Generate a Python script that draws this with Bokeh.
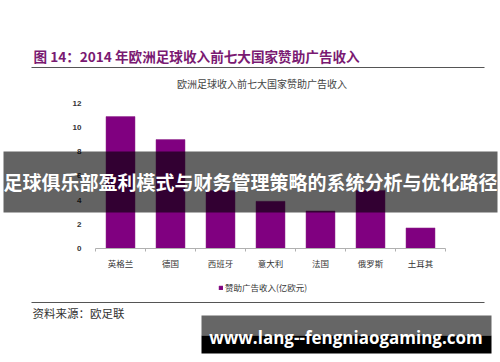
from bokeh.plotting import figure
from bokeh.models import Range1d, FixedTicker, Label, BoxAnnotation, Legend, LegendItem
from bokeh.embed import file_html
from bokeh.resources import INLINE

categories = ["英格兰", "德国", "西班牙", "意大利", "法国", "俄罗斯", "土耳其"]
values = [10.9, 9.0, 4.8, 3.9, 3.1, 4.8, 1.7]
y_ticks = [0, 2, 4, 6, 8, 10, 12]
series_name = "赞助广告收入(亿欧元)"
fig_title = "图 14：2014 年欧洲足球收入前七大国家赞助广告收入"
chart_title = "欧洲足球收入前七大国家赞助广告收入"
source_text = "资料来源：欧足联"
banner_text = "足球俱乐部盈利模式与财务管理策略的系统分析与优化路径"
watermark_text = "www.lang--fengniaogaming.com"

CJK = "Noto Sans CJK SC"
n = len(categories)
xs = [i + 0.5 for i in range(n)]

W, H = 500, 362
# layout: category 0 at x=95px, 50px per category; value 0 at y=248px, 12.1px per unit
PX_CAT, X0 = 50.0, 95.0
PX_VAL, Y0 = 12.1, 248.0

p = figure(width=W, height=H, output_backend="svg", toolbar_location=None,
           x_range=Range1d(-X0 / PX_CAT, (W - X0) / PX_CAT),
           y_range=Range1d(-(H - Y0) / PX_VAL, Y0 / PX_VAL),
           min_border=0, min_border_left=0, min_border_right=0,
           min_border_top=0, min_border_bottom=0)
p.outline_line_color = None
p.grid.visible = False
p.background_fill_color = "white"
p.border_fill_color = "white"

bars = p.vbar(x=xs, top=values, width=0.58, fill_color="#800080", line_color="#8f2a8a", line_width=0.5)

xa = p.xaxis[0]
xa.fixed_location = 0
xa.bounds = (0, n)
xa.ticker = FixedTicker(ticks=xs, minor_ticks=list(range(n + 1)))
xa.major_label_overrides = {x: c for x, c in zip(xs, categories)}
xa.axis_line_color = "#b0b0b0"
xa.major_tick_line_color = None
xa.major_tick_out = 0
xa.major_tick_in = 0
xa.minor_tick_line_color = "#b0b0b0"
xa.minor_tick_out = 3
xa.minor_tick_in = 0
xa.major_label_standoff = 5
xa.major_label_text_font = CJK
xa.major_label_text_font_size = "8.5px"
xa.major_label_text_color = "#333333"

ya = p.yaxis[0]
ya.fixed_location = 0
ya.ticker = FixedTicker(ticks=y_ticks)
ya.axis_line_color = None
ya.major_tick_line_color = None
ya.minor_tick_line_color = None
ya.major_label_standoff = 8
ya.major_label_text_font = "Liberation Sans"
ya.major_label_text_font_style = "bold"
ya.major_label_text_font_size = "8px"
ya.major_label_text_color = "#333333"

legend = Legend(items=[LegendItem(label=series_name, renderers=[bars])],
                location=(218, H - 293), padding=0, margin=0, spacing=0,
                glyph_width=5, glyph_height=5, label_standoff=2,
                label_text_font=CJK, label_text_font_size="8.5px", label_text_color="#333333",
                label_height=8, border_line_color=None, background_fill_alpha=0)
p.add_layout(legend, "center")

def lab(x, y, text, size, color, bold=False, align="left", font=CJK):
    p.add_layout(Label(x=x, y=H - y, x_units="screen", y_units="screen", text=text,
                       text_font=font, text_font_size=size, text_color=color,
                       text_font_style="bold" if bold else "normal",
                       text_align=align, text_baseline="middle"))

def box(l, r, t, b, color, alpha=1.0):
    p.add_layout(BoxAnnotation(left=l, right=r, top=H - t, bottom=H - b,
                               left_units="screen", right_units="screen",
                               top_units="screen", bottom_units="screen",
                               fill_color=color, fill_alpha=alpha, line_alpha=0))

lab(33, 55, fig_title, "13.6px", "#7a1a72", bold=True)
box(31, 484, 66.5, 67.5, "#555555")
lab(261.5, 83, chart_title, "10px", "#444444", align="center")
box(31, 484, 301.5, 302.5, "#555555")
lab(32, 312, source_text, "11.5px", "#333333")

box(3, 497, 151, 212, "#000000", 0.61)
lab(250, 181, banner_text, "19px", "white", bold=True, align="center")

box(201, 491, 315, 335, "#666666")
box(201, 491, 335, 353, "#000000")
lab(345.5, 337, watermark_text, "17px", "white", bold=True, align="center", font="Open Sans")

open("out.html", "w").write(file_html(p, INLINE))
